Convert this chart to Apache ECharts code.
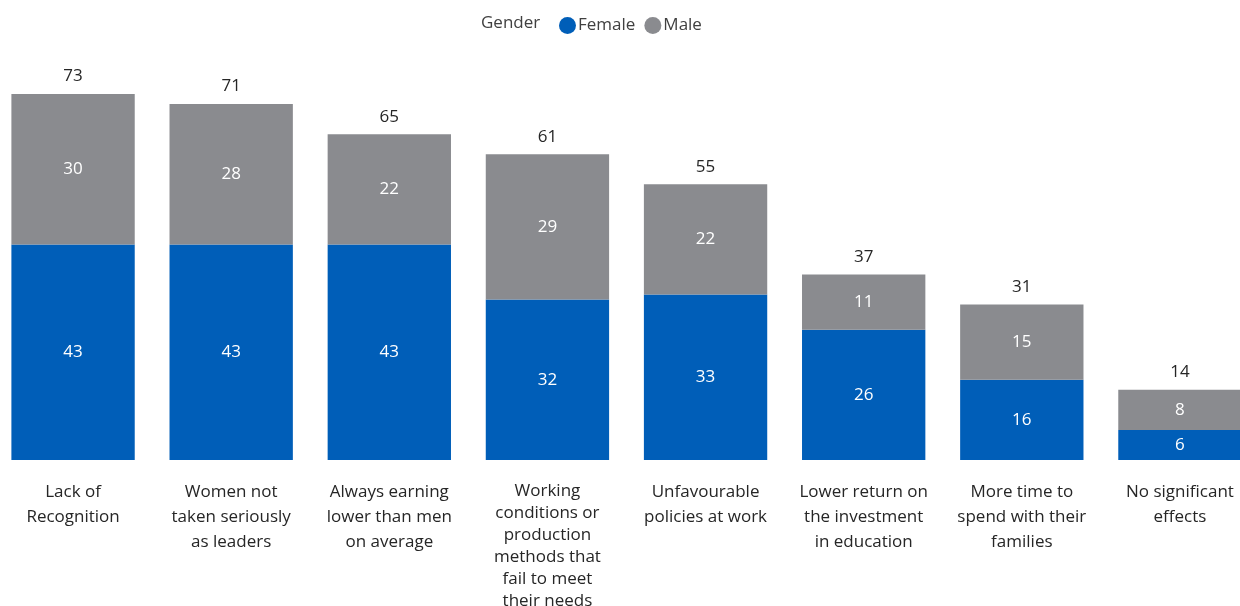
<!DOCTYPE html>
<html><head><meta charset="utf-8">
<script src="https://cdn.jsdelivr.net/npm/echarts@6/dist/echarts.min.js"></script>
<style>html,body{margin:0;padding:0;background:#fff}#c{width:1240px;height:606px}</style>
</head><body><div id="c"></div>
<script>
const categories = [
  "Lack of\nRecognition",
  "Women not\ntaken seriously\nas leaders",
  "Always earning\nlower than men\non average",
  "Working\nconditions or\nproduction\nmethods that\nfail to meet\ntheir needs",
  "Unfavourable\npolicies at work",
  "Lower return on\nthe investment\nin education",
  "More time to\nspend with their\nfamilies",
  "No significant\neffects"
];
const female = [43, 43, 43, 32, 33, 26, 16, 6];
const male = [30, 28, 22, 29, 22, 11, 15, 8];
const totals = [73, 71, 65, 61, 55, 37, 31, 14];

const FONT = "'Open Sans', 'Noto Sans', sans-serif";
const chart = echarts.init(document.getElementById('c'), null, {renderer: 'canvas'});
chart.setOption({
  animation: false,
  textStyle: {fontFamily: FONT},
  title: {
    text: 'Gender', left: 476, top: 10,
    textStyle: {fontFamily: FONT, fontSize: 17, fontWeight: 'normal', color: '#404040'}
  },
  legend: {
    data: ['Female', 'Male'], left: 554, top: 12,
    icon: 'circle', itemWidth: 17, itemHeight: 17, itemGap: 9,
    textStyle: {fontFamily: FONT, fontSize: 17, color: '#404040', padding: [0, 0, 0, -3]}
  },
  grid: {left: -6, right: -19, top: 59, bottom: 146, containLabel: false, outerBoundsMode: 'none'},
  xAxis: {
    type: 'category', data: categories,
    axisLine: {show: false}, axisTick: {show: false},
    axisLabel: {
      interval: 0, margin: 20, fontFamily: FONT, fontSize: 17, lineHeight: 25, color: '#262626', verticalAlign: 'top',
      formatter: (v, i) => v.split('\n').length > 4 ? v.split('\n').map(s => '{t|' + s + '}').join('\n') : v,
      rich: {t: {fontFamily: FONT, fontSize: 17, lineHeight: 22, color: '#262626'}}
    }
  },
  yAxis: {type: 'value', min: 0, max: 80, show: false, splitLine: {show: false}},
  series: [
    {
      name: 'Female', type: 'bar', stack: 's', data: female, barCategoryGap: '22%',
      itemStyle: {color: '#005EB8'},
      label: {show: true, position: 'inside', color: '#fff', fontFamily: FONT, fontSize: 17}
    },
    {
      name: 'Male', type: 'bar', stack: 's', data: male,
      itemStyle: {color: '#8A8B8F'},
      label: {show: true, position: 'inside', color: '#fff', fontFamily: FONT, fontSize: 17}
    },
    {
      name: 'Total', type: 'bar', stack: 's', data: female.map(() => 0),
      itemStyle: {color: 'transparent'},
      label: {show: true, position: 'top', distance: 9, color: '#262626', fontFamily: FONT, fontSize: 17,
        formatter: p => totals[p.dataIndex]}
    }
  ]
});
</script></body></html>
